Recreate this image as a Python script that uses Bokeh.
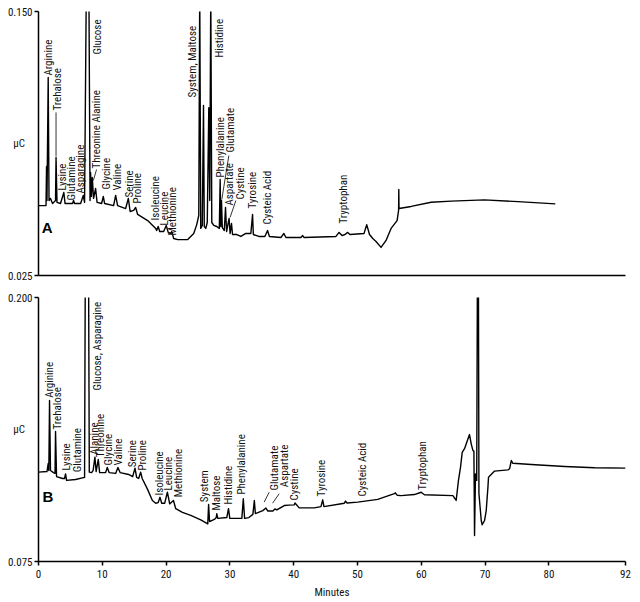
import math
from bokeh.plotting import figure
from bokeh.models import Range1d, FixedTicker, Label, ColumnDataSource
from bokeh.layouts import column
from bokeh.embed import file_html
from bokeh.resources import INLINE
from bokeh.core.properties import value

FONT = "Roboto Condensed, DejaVu Sans Condensed, Liberation Sans Narrow, Arial Narrow, Liberation Sans"

# ---------------- Panel A data (minutes, µC) ----------------
a_minutes = [0, 1.18, 1.26, 1.33, 1.52, 1.65, 1.88, 2.2, 2.67, 2.75, 2.9, 3.45, 3.97, 4.16,
             5.34, 5.49, 5.65, 6.6, 7.02, 7.22, 7.49, 7.9, 8.08, 8.16, 8.29, 8.43, 8.63, 8.95,
             9.18, 9.89, 10.16, 10.36, 11.77, 12.09, 12.4, 13.66, 14.08, 14.36, 14.91, 15.23,
             15.54, 17.11, 18.37, 18.52, 18.76, 19.0, 19.62, 20.02, 20.33, 20.72, 20.88, 21.19,
             21.82, 23.39, 24.33, 24.8, 25.12, 25.27, 25.43, 25.67, 25.86, 25.98, 26.22, 26.45,
             26.69, 26.84, 27.0, 27.16, 27.47, 27.94, 28.34, 28.47, 28.57, 28.68, 28.81, 29.12,
             29.31, 29.48, 29.87, 30.03, 30.25, 30.41, 31.08, 31.71, 32.5, 33.28, 33.55, 33.67,
             34.54, 35.48, 35.9, 36.19, 37.99, 38.46, 38.78, 41.13, 41.4, 41.6, 46.62, 47.1,
             47.57, 48.04, 48.46, 48.82, 51.02, 51.44, 51.88, 52.39, 52.9, 53.69, 54.47, 55.26,
             56.2, 56.44, 56.47, 56.5, 58.4, 61.54, 64.68, 69.9, 75.15, 81.0]
a_uc = [0.0581, 0.0581, 0.0766, 0.0605, 0.1188, 0.0605, 0.0615, 0.0591, 0.0605, 0.0809, 0.0596, 0.0591, 0.0643, 0.0591,
        0.0591, 0.0605, 0.0591, 0.0591, 0.0629, 0.0596, 0.16, 0.16, 0.0605, 0.0738, 0.0624, 0.0714, 0.0615, 0.0662,
        0.0596, 0.0591, 0.0624, 0.0591, 0.0581, 0.0629, 0.0581, 0.0567, 0.0615, 0.0553, 0.0558, 0.0572,
        0.0539, 0.0510, 0.0473, 0.0463, 0.0482, 0.0458, 0.0458, 0.0487, 0.0454, 0.0449, 0.0458, 0.0425,
        0.0420, 0.0420, 0.0449, 0.0491, 0.0534, 0.16, 0.0473, 0.0487, 0.1055, 0.0482, 0.0473, 0.0501,
        0.1045, 0.0605, 0.16, 0.0501, 0.0487, 0.0482, 0.0473, 0.0705, 0.0482, 0.0605, 0.0477, 0.0463,
        0.0572, 0.0458, 0.0520, 0.0449, 0.0496, 0.0444, 0.0444, 0.0435, 0.0449, 0.0449, 0.0539, 0.0444,
        0.0435, 0.0435, 0.0463, 0.0435, 0.0430, 0.0449, 0.0430, 0.0430, 0.0439, 0.0430, 0.0435, 0.0454,
        0.0439, 0.0444, 0.0454, 0.0444, 0.0449, 0.0491, 0.0444, 0.0425, 0.0411, 0.0383, 0.0416, 0.0473,
        0.0510, 0.0558, 0.0657, 0.0567, 0.0577, 0.0597, 0.0602, 0.0608, 0.0600, 0.0589]

a_names = ["Arginine", "Trehalose", "Lysine", "Glutamine", "Asparagine", "Glucose",
           "Threonine Alanine", "Glycine", "Valine", "Serine", "Proline", "Isoleucine",
           "Leucine", "Methionine", "System, Maltose", "Histidine", "Phenylalanine",
           "Glutamate", "Aspartate", "Cystine", "Tyrosine", "Cysteic Acid", "Tryptophan"]
a_name_minutes = [1.62, 2.94, 3.72, 5.18, 6.59, 9.22, 9.15, 10.68, 12.35, 14.33, 15.49, 18.37,
                  19.67, 20.99, 24.13, 28.3, 28.46, 30.14, 29.87, 31.6, 33.55, 35.9, 47.83]
a_name_uc = [0.1197, 0.1031, 0.0652, 0.0605, 0.0638, 0.1296, 0.0757, 0.0657, 0.0652, 0.0619,
             0.0591, 0.0510, 0.0487, 0.0439, 0.1093, 0.1282, 0.0714, 0.0832, 0.0581, 0.0610,
             0.0567, 0.0491, 0.0496]
a_lead_x0 = [2.75, 9.1, 29.83, 30.93]
a_lead_y0 = [0.1022, 0.0752, 0.0818, 0.0605]
a_lead_x1 = [2.75, 8.6, 28.73, 30.03]
a_lead_y1 = [0.0814, 0.0700, 0.0610, 0.0525]

# ---------------- Panel B data (minutes, µC) ----------------
b_minutes = [0, 1.33, 1.52, 1.62, 1.73, 1.88, 2.35, 2.59, 2.67, 2.83, 3.77, 4.08, 4.24, 4.4,
             5.81, 7.22, 7.33, 7.85, 7.96, 8.32, 8.56, 8.84, 9.03, 9.37, 9.58, 10.52, 10.78, 11.07,
             12.09, 12.45, 12.79, 14.13, 14.76, 15.12, 15.38, 15.7, 16.01, 16.25, 17.06, 17.85,
             18.37, 18.76, 19.04, 19.31, 19.78, 20.2, 20.56, 20.8, 21.15, 21.51, 22.56, 23.86,
             25.43, 26.53, 26.66, 26.81, 27.63, 27.86, 27.94, 28.1, 29.51, 29.78, 29.98, 31.87,
             32.1, 32.3, 32.97, 33.6, 33.83, 33.99, 35.16, 35.64, 35.95, 36.73, 37.05, 37.36,
             38.51, 39.25, 40.08, 40.2, 40.86, 43.22, 44.27, 44.54, 44.74, 47.93, 48.12, 48.35,
             50.03, 53.17, 55.78, 55.93, 56.2, 56.83, 58.92, 59.97, 60.49, 64.95, 65.46, 65.82,
             66.14, 66.41, 66.77, 67.55, 67.82, 68.08, 68.24, 68.34, 68.49, 68.68, 68.79, 68.95,
             69.03, 69.39, 69.54, 69.91, 70.17, 70.44, 70.53, 71.48, 73.58, 73.83, 74.1, 74.36,
             77.24, 82.46, 87.17, 92.0]
b_uc = [0.1173, 0.1176, 0.1214, 0.1181, 0.1512, 0.1181, 0.1171, 0.1167, 0.1366, 0.1152, 0.1143, 0.1143, 0.1165, 0.1134,
        0.1138, 0.1148, 0.21, 0.21, 0.1173, 0.1171, 0.1181, 0.1244, 0.1176, 0.1233, 0.1171, 0.1171, 0.1195, 0.1171,
        0.1167, 0.1195, 0.1171, 0.1162, 0.1152, 0.1192, 0.1148, 0.1143, 0.1173, 0.1143, 0.1094, 0.1039,
        0.1026, 0.1029, 0.1054, 0.1026, 0.1026, 0.1078, 0.1023, 0.1029, 0.1039, 0.1000, 0.0983, 0.0968,
        0.0947, 0.0928, 0.1020, 0.0939, 0.0951, 0.0958, 0.0976, 0.0954, 0.0958, 0.1000, 0.0954, 0.0954,
        0.1047, 0.0954, 0.0958, 0.0973, 0.1039, 0.0977, 0.0991, 0.1003, 0.0989, 0.0989, 0.0999, 0.0994,
        0.1015, 0.1017, 0.1018, 0.1027, 0.1004, 0.1004, 0.1010, 0.1042, 0.1010, 0.1026, 0.1036, 0.1027,
        0.1031, 0.1044, 0.1071, 0.1075, 0.1064, 0.1062, 0.1067, 0.1078, 0.1066, 0.1062, 0.1039, 0.1134,
        0.1196, 0.1267, 0.1284, 0.1351, 0.1307, 0.1276, 0.1272, 0.0873, 0.1165, 0.1134, 0.21, 0.21,
        0.1071, 0.0944, 0.0924, 0.0944, 0.0991, 0.1102, 0.1149, 0.1178, 0.1184, 0.1189, 0.1228, 0.1215,
        0.1209, 0.1200, 0.1194, 0.1192]

b_names = ["Arginine", "Trehalose", "Lysine", "Glutamine", "Glucose, Asparagine", "Alanine",
           "Threonine", "Glycine", "Valine", "Serine", "Proline", "Isoleucine", "Leucine",
           "Methionine", "System", "Maltose", "Histidine", "Phenylalanine", "Glutamate",
           "Aspartate", "Cystine", "Tyrosine", "Cysteic Acid", "Tryptophan"]
b_name_minutes = [1.77, 3.03, 4.4, 6.08, 9.22, 8.79, 9.73, 10.94, 12.61, 14.71, 16.28, 18.89,
                  20.36, 21.87, 26.06, 27.9, 29.72, 31.87, 36.94, 38.51, 40.08, 44.38, 50.82, 60.24]
b_name_uc = [0.1525, 0.1375, 0.1181, 0.1173, 0.1560, 0.1255, 0.1244, 0.1205, 0.1205, 0.1196,
             0.1181, 0.1062, 0.1086, 0.1054, 0.1031, 0.0991, 0.1020, 0.1067, 0.1086, 0.1102,
             0.1039, 0.1058, 0.1058, 0.1089]
b_lead_x0 = [36.15, 37.72]
b_lead_y0 = [0.1078, 0.1071]
b_lead_x1 = [35.37, 36.69]
b_lead_y1 = [0.1031, 0.1026]

x_ticks = [0, 10, 20, 30, 40, 50, 60, 70, 80, 92]
a_ylim = (0.025, 0.150)
b_ylim = (0.075, 0.200)


def panel(height, ylim, btop, bbottom, minutes, uc, names, nx, ny, lx0, ly0, lx1, ly1, letter, letter_xy, bottom_axis):
    p = figure(width=640, height=height, x_range=Range1d(0, 92), y_range=Range1d(*ylim),
               output_backend="svg", toolbar_location=None,
               min_border_left=38, min_border_right=15, min_border_top=btop, min_border_bottom=bbottom)
    p.grid.visible = False
    p.outline_line_color = None

    ya = p.yaxis[0]
    ya.ticker = FixedTicker(ticks=list(ylim))
    ya.major_label_overrides = {ylim[0]: f"{ylim[0]:.3f}", ylim[1]: f"{ylim[1]:.3f}"}
    ya.minor_tick_line_color = None
    ya.major_tick_in = 0
    ya.major_tick_out = 4
    ya.major_label_standoff = 2
    ya.axis_line_width = 1.5
    ya.major_tick_line_width = 1.5
    ya.major_label_text_font = FONT
    ya.major_label_text_font_size = "11px"
    ya.major_label_text_color = "#111111"
    ya.axis_label = "µC"
    ya.axis_label_orientation = "horizontal"
    ya.axis_label_standoff = -20
    ya.axis_label_text_font = FONT
    ya.axis_label_text_font_size = "11px"
    ya.axis_label_text_font_style = "normal"
    ya.axis_label_text_color = "#111111"

    xa = p.xaxis[0]
    xa.axis_line_width = 1.5
    xa.minor_tick_line_color = None
    if bottom_axis:
        xa.ticker = FixedTicker(ticks=x_ticks)
        xa.major_tick_in = 0
        xa.major_tick_out = 4
        xa.major_tick_line_width = 1.5
        xa.major_label_standoff = 4
        xa.major_label_text_font = FONT
        xa.major_label_text_font_size = "11px"
        xa.major_label_text_color = "#111111"
        xa.axis_label = "Minutes"
        xa.axis_label_standoff = 5
        xa.axis_label_text_font = FONT
        xa.axis_label_text_font_size = "11px"
        xa.axis_label_text_font_style = "normal"
        xa.axis_label_text_color = "#111111"
    else:
        xa.ticker = FixedTicker(ticks=[])
        xa.major_tick_in = 0
        xa.major_tick_out = 0
        xa.major_label_standoff = 0
        xa.major_label_text_font_size = "0px"

    p.line(minutes, uc, line_color="black", line_width=1.4, line_join="round")

    src = ColumnDataSource(dict(x=nx, y=ny, t=names))
    p.text(x="x", y="y", text="t", source=src, angle=math.pi / 2,
           text_align="left", text_baseline="middle",
           text_font=value(FONT), text_font_size="11px", text_color="#111111")
    p.segment(x0=lx0, y0=ly0, x1=lx1, y1=ly1, line_color="black", line_width=0.8)

    p.add_layout(Label(x=letter_xy[0], y=letter_xy[1], text=letter, text_align="center",
                       text_baseline="middle", text_font="Liberation Sans",
                       text_font_size="15px", text_font_style="bold", text_color="black"))
    return p


top = panel(285, a_ylim, 11, 10, a_minutes, a_uc, a_names, a_name_minutes, a_name_uc,
            a_lead_x0, a_lead_y0, a_lead_x1, a_lead_y1, "A", (1.36, 0.0479), False)
bottom = panel(316, b_ylim, 12, 40, b_minutes, b_uc, b_names, b_name_minutes, b_name_uc,
               b_lead_x0, b_lead_y0, b_lead_x1, b_lead_y1, "B", (1.46, 0.1058), True)

layout = column(top, bottom, spacing=0)
open("out.html", "w").write(file_html(layout, INLINE))
